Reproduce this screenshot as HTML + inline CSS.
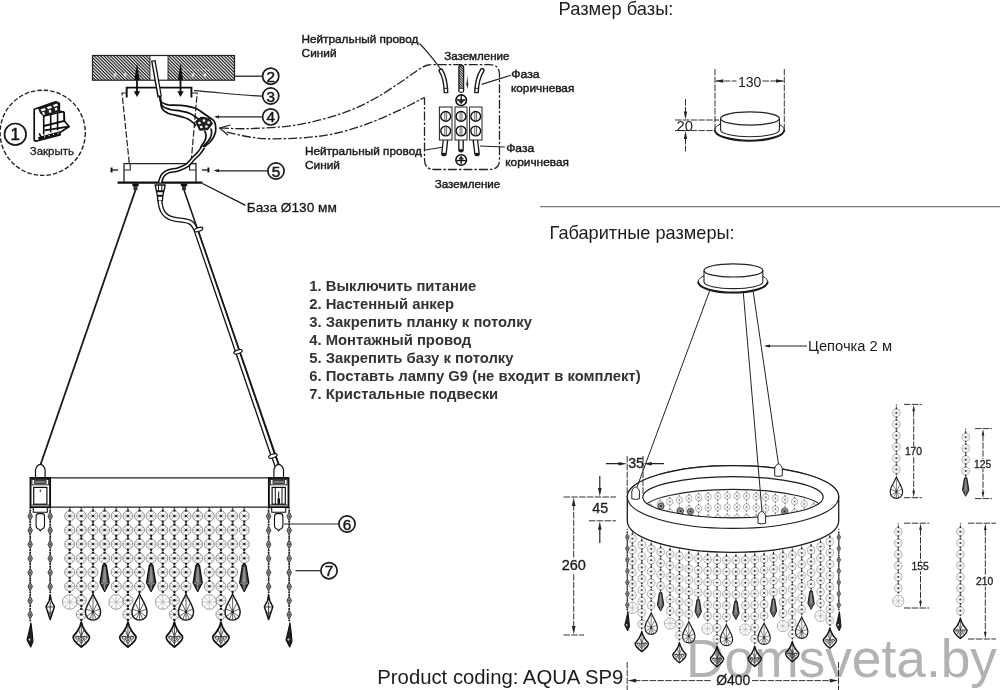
<!DOCTYPE html>
<html lang="ru"><head><meta charset="utf-8"><title>AQUA SP9</title>
<style>
html,body{margin:0;padding:0;background:#fff;}
body{width:1000px;height:690px;overflow:hidden;font-family:"Liberation Sans",sans-serif;}
svg{display:block;font-family:"Liberation Sans",sans-serif;}
</style></head><body>
<svg width="1000" height="690" viewBox="0 0 1000 690">
<defs>
<pattern id="hatch" width="2.3" height="2.3" patternUnits="userSpaceOnUse" patternTransform="rotate(45)"><rect width="2.3" height="2.3" fill="#fff"/><rect width="2.3" height="1.2" fill="#1c1c1c"/></pattern>
<pattern id="hatch2" width="1.8" height="1.8" patternUnits="userSpaceOnUse" patternTransform="rotate(45)"><rect width="1.8" height="1.8" fill="#fff"/><rect width="1.8" height="1" fill="#222"/></pattern>
<g id="bd"><circle r="4" fill="none" stroke="#8a8a8a" stroke-width="0.75"/><path d="M-2.6 -2.6L2.6 2.6M2.6 -2.6L-2.6 2.6M-3.5 0H3.5" stroke="#a0a0a0" stroke-width="0.6" fill="none"/><circle r="1" fill="#2a2a2a"/><circle cy="-4.5" r="0.95" fill="#1a1a1a"/><circle cy="4.5" r="0.95" fill="#1a1a1a"/></g>
<g id="bdf"><circle r="4" fill="none" stroke="#a2a2a2" stroke-width="0.75"/><path d="M-2.6 -2.6L2.6 2.6M2.6 -2.6L-2.6 2.6M-3.5 0H3.5" stroke="#bbb" stroke-width="0.55" fill="none"/><circle r="0.95" fill="#3a3a3a"/><circle cy="-4.5" r="0.9" fill="#2a2a2a"/><circle cy="4.5" r="0.9" fill="#2a2a2a"/></g>
<g id="bdl"><circle r="3.5" fill="none" stroke="#999" stroke-width="0.75"/><path d="M-2.2 -2.2L2.2 2.2M2.2 -2.2L-2.2 2.2" stroke="#b5b5b5" stroke-width="0.5" fill="none"/><circle r="0.8" fill="#555"/><circle cy="-4.4" r="0.7" fill="#444"/><circle cy="4.4" r="0.7" fill="#444"/></g>
<g id="bs"><path d="M0 -3.5L1.8 0L0 3.5L-1.8 0z" fill="#909090" stroke="#3c3c3c" stroke-width="0.8"/><circle cy="-4.6" r="0.8" fill="#222"/><circle cy="4.6" r="0.8" fill="#222"/><circle r="0.7" fill="#444"/></g>
<g id="tear"><path d="M0 0C1.6 4.5 6 9.5 6 14.4C6 18.2 3.4 20.7 0 20.7C-3.4 20.7 -6 18.2 -6 14.4C-6 9.5 -1.6 4.5 0 0z" fill="#fff" stroke="#1a1a1a" stroke-width="1.15"/><path d="M0 14V2.5M0 14L-3.2 7.5M0 14L3.2 7.5M0 14L-5.6 12M0 14L5.6 12M0 14L-5 17.8M0 14L5 17.8M0 14V20.4M0 14L-2.6 20M0 14L2.6 20" stroke="#333" stroke-width="0.6" fill="none"/><circle cy="14" r="1" fill="#222"/></g>
<g id="ici"><path d="M0 0L-1.3 1.2L-3.4 14.2L0 20.6L3.4 14.2L1.3 1.2z" fill="#4a4a4a" stroke="#111" stroke-width="1" stroke-linejoin="round"/><path d="M-0.5 2.4L-1.5 13.6L0 14.6L1.5 13.6L0.5 2.4z" fill="#8e8e8e"/><path d="M-2.8 14.4L0 15.2L2.8 14.4M0 15.2V19.6" stroke="#a8a8a8" stroke-width="0.6" fill="none"/></g>
<g id="ball"><polygon points="5.73,2.37 2.37,5.73 -2.37,5.73 -5.73,2.37 -5.73,-2.37 -2.37,-5.73 2.37,-5.73 5.73,-2.37" fill="#fff" stroke="#999" stroke-width="0.8"/><path d="M-4.2 -4.2L4.2 4.2M4.2 -4.2L-4.2 4.2M0 -5.8V5.8M-5.8 0H5.8" stroke="#aaa" stroke-width="0.55" fill="none"/></g>
<g id="leaf"><path d="M0 0C0.8 3.6 2.9 7.6 6 10.6C7.1 12.6 4.8 15.2 0 18.9C-4.8 15.2 -7.1 12.6 -6 10.6C-2.9 7.6 -0.8 3.6 0 0z" fill="#fff" stroke="#111" stroke-width="1.3" stroke-linejoin="round"/><path d="M0 1.5V18M0 11L-5.2 11.3M0 11L5.2 11.3M0 11L-2.4 5M0 11L2.4 5M0 11L-3.4 15.4M0 11L3.4 15.4" stroke="#222" stroke-width="0.6" fill="none"/><circle cx="-3" cy="11.8" r="1.25" fill="none" stroke="#222" stroke-width="0.6"/><circle cx="3" cy="11.8" r="1.25" fill="none" stroke="#222" stroke-width="0.6"/><circle cy="14.6" r="1.2" fill="none" stroke="#222" stroke-width="0.6"/></g>
<g id="stear"><path d="M0 0L-0.8 6L-3.4 12L0 25L3.4 12L0.8 6z" transform="scale(1 0.8)" fill="#fff" stroke="#111" stroke-width="1.2" stroke-linejoin="round"/><path d="M-2.6 9.8H2.6M0 6V19M-2.4 12.5L0 15.5L2.4 12.5" stroke="#222" stroke-width="0.7" fill="none"/></g>
<g id="sleaf"><path d="M0.6 0L-1.4 9L-2.6 13.6L0.4 19.4L2.2 15L1.6 8z" fill="#222" stroke="#111" stroke-width="0.9" stroke-linejoin="round"/><circle cx="-0.6" cy="13.4" r="0.9" fill="#ccc"/></g>
<filter id="soft" x="0" y="0" width="1000" height="690" filterUnits="userSpaceOnUse"><feGaussianBlur stdDeviation="0.35"/></filter>
</defs>
<rect width="1000" height="690" fill="#fff"/>
<g filter="url(#soft)">
<!-- A: assembly -->
<g id="ceiling">
<rect x="92.5" y="55.5" width="57.5" height="24.7" fill="url(#hatch)"/>
<rect x="168" y="55.5" width="66.5" height="24.7" fill="url(#hatch)"/>
<rect x="92.5" y="55.5" width="142" height="24.7" fill="none" stroke="#222" stroke-width="1.2"/>
<path d="M150 55.5V80.2M168 55.5V80.2" stroke="#222" stroke-width="0.9"/>
<path d="M115 73v4M113.5 75h3" stroke="#fff" stroke-width="1" fill="none"/>
<path d="M125 73v4M123.5 75h3" stroke="#fff" stroke-width="1" fill="none"/>
<path d="M193 73v4M191.5 75h3" stroke="#fff" stroke-width="1" fill="none"/>
<path d="M205 73v4M203.5 75h3" stroke="#fff" stroke-width="1" fill="none"/>
<path d="M183 70H210" stroke="#eee" stroke-width="0.8" stroke-dasharray="2 1.5"/>
<path d="M137 63L139.6 80H134.4z" fill="#111"/>
<path d="M137 80V93" stroke="#111" stroke-width="1.8"/>
<path d="M133.8 91.3h6.4L137 97z" fill="#111"/>
<path d="M180.5 63L183.1 80H177.9z" fill="#111"/>
<path d="M180.5 80V93" stroke="#111" stroke-width="1.8"/>
<path d="M177.3 91.3h6.4L180.5 97z" fill="#111"/>
</g>
<path d="M126.7 97.5V87.6H191.4V97.5" fill="none" stroke="#111" stroke-width="1.9"/>
<path d="M126 93H122L129.3 163.6M192 93H197.2L191 163.6" fill="none" stroke="#222" stroke-width="1.2" stroke-dasharray="6.5 2"/>
<path d="M124 182V163.7H196V182" fill="none" stroke="#222" stroke-width="1.25"/>
<path d="M124 170H130.2V163.7M196 170H189.6V163.7" fill="none" stroke="#222" stroke-width="1.1"/>
<path d="M117.5 182.7H202.5" stroke="#111" stroke-width="2.2"/>
<path d="M112.5 170h5.5" stroke="#111" stroke-width="1.3"/><path d="M111.6 167.6v4.8" stroke="#111" stroke-width="2"/>
<path d="M202 170h5.5" stroke="#111" stroke-width="1.3"/><path d="M208.4 167.6v4.8" stroke="#111" stroke-width="2"/>
<rect x="132.3" y="183.5" width="6.4" height="2.6" fill="#111"/><rect x="133.5" y="186" width="4" height="4.2" fill="#333"/>
<rect x="180.8" y="183.5" width="6.4" height="2.6" fill="#111"/><rect x="182" y="186" width="4" height="4.2" fill="#333"/>
<path d="M153.3 60.3L159.7 97" stroke="#111" stroke-width="4.6" stroke-linecap="butt"/>
<path d="M153.5 61.5L159.7 96" stroke="#fff" stroke-width="1.9"/>
<path d="M159.3 95.5C159.7 96.6 160.1 100.5 161.5 102.0C162.9 103.5 164.8 104.2 168.0 104.8C171.2 105.3 176.5 104.8 181.0 105.3C185.5 105.8 191.3 106.7 195.0 108.0C198.7 109.3 200.6 111.4 203.0 113.0C205.4 114.6 207.7 116.2 209.5 117.5C211.3 118.8 213.0 119.6 214.0 121.0C215.0 122.4 215.4 124.0 215.6 126.0C215.8 128.0 216.1 130.5 215.3 133.0C214.5 135.5 212.9 138.7 211.0 141.0C209.1 143.3 205.2 145.8 204.0 146.8" fill="none" stroke="#111" stroke-width="1.7"/>
<path d="M159.8 96.0C160.2 97.6 160.3 103.2 162.0 105.5C163.7 107.8 166.8 108.6 170.0 109.5C173.2 110.4 177.7 110.4 181.0 111.1C184.3 111.8 187.3 112.3 190.0 113.5C192.7 114.7 195.3 116.8 197.0 118.0C198.7 119.2 199.5 120.5 200.0 121.0" fill="none" stroke="#111" stroke-width="1.7"/>
<path d="M160.3 96.5C160.6 98.4 160.5 105.2 161.8 108.0C163.1 110.8 164.8 111.8 168.0 113.2C171.2 114.6 177.7 115.6 181.0 116.6C184.3 117.6 185.8 117.8 188.0 119.0C190.2 120.2 192.7 122.3 194.0 123.5C195.3 124.7 195.7 125.6 196.0 126.0" fill="none" stroke="#111" stroke-width="1.7"/>
<path d="M211.0 128.5C211.1 129.2 211.8 131.3 211.6 133.0C211.4 134.7 210.9 136.8 210.0 138.5C209.1 140.2 207.3 142.1 206.0 143.5C204.7 144.9 202.9 146.6 202.3 147.2" fill="none" stroke="#111" stroke-width="1.7"/>
<path d="M204.5 130.5C204.8 131.2 205.9 133.4 206.0 135.0C206.1 136.6 205.8 138.4 205.2 140.0C204.6 141.6 203.3 143.2 202.5 144.5C201.7 145.8 200.7 147.2 200.3 147.8" fill="none" stroke="#111" stroke-width="1.7"/>
<path d="M203.2 147.0C202.5 148.0 200.7 151.0 199.0 153.0C197.3 155.0 195.0 156.9 193.0 159.0C191.0 161.1 189.5 163.7 187.0 165.4C184.5 167.2 181.0 168.5 178.0 169.5C175.0 170.5 171.5 170.3 169.0 171.2C166.5 172.1 164.5 173.1 163.0 175.0C161.5 176.9 160.5 181.2 160.0 182.5" fill="none" stroke="#111" stroke-width="4.6"/>
<path d="M203.2 147.0C202.5 148.0 200.7 151.0 199.0 153.0C197.3 155.0 195.0 156.9 193.0 159.0C191.0 161.1 189.5 163.7 187.0 165.4C184.5 167.2 181.0 168.5 178.0 169.5C175.0 170.5 171.5 170.3 169.0 171.2C166.5 172.1 164.5 173.1 163.0 175.0C161.5 176.9 160.5 181.2 160.0 182.5" fill="none" stroke="#fff" stroke-width="1.6"/>
<path d="M195.6 121.5l5.5 -4.4l8.2 1.4l3.2 5.2l-4.6 5.9l-8.3 0.6z" fill="#222" stroke="#111" stroke-width="1" stroke-linejoin="round"/>
<circle cx="199.5" cy="123" r="1.35" fill="#fff"/>
<circle cx="204" cy="120.6" r="1.35" fill="#fff"/>
<circle cx="208.6" cy="122.6" r="1.35" fill="#fff"/>
<circle cx="201.3" cy="127" r="1.35" fill="#fff"/>
<circle cx="206.4" cy="126.5" r="1.35" fill="#fff"/>
<path d="M155.2 185h10l-1.2 6h-7.6zM156.6 191.5h7l-0.6 4h-5.8zM157.4 196h5.4l-0.4 4.6h-4.6z" fill="#fff" stroke="#111" stroke-width="1.3" stroke-linejoin="round"/>
<path d="M158.5 185.5v5M161.8 185.5v5" stroke="#111" stroke-width="1"/>
<path d="M135.5 190L40.4 465" stroke="#1a1a1a" stroke-width="1.8"/>
<path d="M160 200.5C160.5 212 165 218 176 219.5S192 220 196 230L272.8 455C274.5 459 276 462 276.8 466" fill="none" stroke="#161616" stroke-width="5.2"/>
<path d="M160 200.5C160.5 212 165 218 176 219.5S192 220 196 230L272.8 455C274.5 459 276 462 276.8 466" fill="none" stroke="#fff" stroke-width="2.5"/>
<path d="M184 190L279 465" stroke="#1a1a1a" stroke-width="1.6"/>
<ellipse cx="198.6" cy="229.5" rx="4.4" ry="1.8" transform="rotate(-18 198.6 229.5)" fill="#fff" stroke="#111" stroke-width="1.2"/>
<ellipse cx="238" cy="351.8" rx="4.4" ry="1.8" transform="rotate(-18 238 351.8)" fill="#fff" stroke="#111" stroke-width="1.2"/>
<ellipse cx="272.9" cy="456" rx="4.4" ry="1.8" transform="rotate(-18 272.9 456)" fill="#fff" stroke="#111" stroke-width="1.2"/>
<circle cx="270.7" cy="76.2" r="8.1" fill="#fff" stroke="#1a1a1a" stroke-width="1.7"/>
<text x="270.7" y="81.7" font-size="15.3" text-anchor="middle" fill="#1a1a1a" stroke="#1a1a1a" stroke-width="0.5">2</text>
<circle cx="270.7" cy="96" r="8.1" fill="#fff" stroke="#1a1a1a" stroke-width="1.7"/>
<text x="270.7" y="101.5" font-size="15.3" text-anchor="middle" fill="#1a1a1a" stroke="#1a1a1a" stroke-width="0.5">3</text>
<circle cx="270.7" cy="116.9" r="8.1" fill="#fff" stroke="#1a1a1a" stroke-width="1.7"/>
<text x="270.7" y="122.4" font-size="15.3" text-anchor="middle" fill="#1a1a1a" stroke="#1a1a1a" stroke-width="0.5">4</text>
<circle cx="276" cy="171" r="8.1" fill="#fff" stroke="#1a1a1a" stroke-width="1.7"/>
<text x="276" y="176.5" font-size="15.3" text-anchor="middle" fill="#1a1a1a" stroke="#1a1a1a" stroke-width="0.5">5</text>
<circle cx="347" cy="524" r="8.1" fill="#fff" stroke="#1a1a1a" stroke-width="1.7"/>
<text x="347" y="529.5" font-size="15.3" text-anchor="middle" fill="#1a1a1a" stroke="#1a1a1a" stroke-width="0.5">6</text>
<circle cx="329" cy="570.7" r="8.1" fill="#fff" stroke="#1a1a1a" stroke-width="1.7"/>
<text x="329" y="576.2" font-size="15.3" text-anchor="middle" fill="#1a1a1a" stroke="#1a1a1a" stroke-width="0.5">7</text>
<circle cx="15.3" cy="134.3" r="10.8" fill="#fff" stroke="#1a1a1a" stroke-width="1.7"/>
<text x="15.3" y="140.4" font-size="17" text-anchor="middle" fill="#1a1a1a" stroke="#1a1a1a" stroke-width="0.5">1</text>
<path d="M234.5 76.2H262" stroke="#222" stroke-width="1.3"/>
<path d="M194 90.6C215 92 240 95.4 262 96.2" fill="none" stroke="#222" stroke-width="1.2"/>
<path d="M216 116.8H262" stroke="#222" stroke-width="1.3"/><path d="M214 116.8l5 -1.6v3.2z" fill="#222"/>
<path d="M216 170.8H267.5" stroke="#222" stroke-width="1.3"/><path d="M213.5 170.6l5.5 -1.6v3.2z" fill="#222"/>
<path d="M284 524H338.5" stroke="#222" stroke-width="1.2"/>
<path d="M295.5 570.7H320.5" stroke="#222" stroke-width="1.2"/>
<path d="M202.5 183.5L245.5 205.3" stroke="#1a1a1a" stroke-width="1.4"/>
<circle cx="42.7" cy="132.8" r="42.6" fill="none" stroke="#222" stroke-width="1.4" stroke-dasharray="4.5 2"/>
<g id="breaker" stroke="#111" stroke-linejoin="round">
<path d="M34.2 109.3L55.7 101.8L59.3 103.4V111L64 112.2L64.5 121.3L69.2 126.5L60 132.5V134.9L35.8 141.2L34.2 140z" fill="#fff" stroke-width="1.7"/>
<path d="M38.6 108.6L55.5 102.6L58.8 104V111.2L44 116.2L40.5 113.2z" fill="#222" stroke-width="1"/>
<path d="M40.6 109.4L44.8 107.9L45.8 110L41.8 111.5zM46.8 107.2L51 105.7L52 107.8L48 109.3zM53 105L57.2 103.6L58 105.7L54 107.1z" fill="#fff" stroke="none"/>
<path d="M42 112.6l2.2 -0.8l0.8 2.6l-1.6 0.6zM48.6 110.4l2.2 -0.8l0.6 2.6l-2 0.7zM54.8 108.3l2.2 -0.8l0.4 2.6l-2 0.7z" fill="#fff" stroke="none"/>
<path d="M43.7 115.8V134.5M50.7 113.6V132.3M57.6 111.4V130.2M64.2 112.4V121" stroke-width="1.6" fill="none"/>
<path d="M43.7 116L64 111.6" stroke-width="1.3" fill="none"/>
<path d="M43.7 126L64.5 120.8M44.5 130.4L68.4 126.6" stroke-width="1.9" fill="none"/>
<path d="M38.4 138.6L60 132.8" stroke-width="3" fill="none"/>
<path d="M38.2 109V137" stroke-width="0.01" fill="none"/>
<path d="M39.2 133.5L41.6 137.8" stroke-width="1.6" fill="none"/>
<path d="M44.5 136.8h0.1M49 135.6h0.1M53.5 134.4h0.1M58 133.2h0.1" stroke="#fff" stroke-width="1.2" stroke-linecap="round" fill="none"/>
</g>
<text x="29.7" y="155.4" font-size="11.5" textLength="44.3" lengthAdjust="spacingAndGlyphs" fill="#1a1a1a" stroke="#1a1a1a" stroke-width="0.3">Закрыть</text>
<text x="246.8" y="211.6" font-size="13.6" textLength="90" lengthAdjust="spacingAndGlyphs" fill="#1a1a1a" stroke="#1a1a1a" stroke-width="0.3">База Ø130 мм</text>
<!-- B: terminal detail -->
<path d="M220.0 128.0C224.3 128.1 235.7 128.9 246.0 128.7C256.3 128.5 272.0 127.7 282.0 126.8C292.0 125.9 298.0 124.8 306.0 123.2C314.0 121.6 322.0 119.6 330.0 117.2C338.0 114.8 346.0 112.2 354.0 108.8C362.0 105.4 370.0 101.4 378.0 96.8C386.0 92.2 396.0 85.2 402.0 81.2C408.0 77.2 410.8 75.0 414.0 72.8C417.2 70.6 418.6 69.3 421.0 68.0C423.4 66.7 425.9 65.6 428.4 65.0C430.9 64.4 434.7 64.7 436.0 64.6H489.5Q499.5 64.6 499.5 74.6V159.5Q499.5 169.5 489.5 169.5H434.5Q424.5 169.5 424.5 159.5V97.5" fill="none" stroke="#222" stroke-width="1.3" stroke-dasharray="9 2 2.5 2"/>
<path d="M226.8 132.2C230.7 133.0 242.8 135.9 250.0 137.0C257.2 138.1 260.7 138.7 270.0 138.8C279.3 138.9 295.2 138.5 306.0 137.6C316.8 136.7 324.8 135.7 334.8 133.5C344.8 131.3 355.6 128.1 366.0 124.4C376.4 120.7 388.8 115.0 397.2 111.2C405.6 107.4 411.8 103.9 416.4 101.6C420.9 99.3 423.1 98.2 424.5 97.5" fill="none" stroke="#222" stroke-width="1.3" stroke-dasharray="9 2 2.5 2"/>
<path d="M230.5 125L219.6 128L228 135.2" fill="none" stroke="#222" stroke-width="1.2"/>
<circle cx="461.2" cy="100.2" r="5.3" fill="#fff" stroke="#111" stroke-width="1.6"/>
<path d="M461.2 95.4V100.2M457 100H465.4" stroke="#111" stroke-width="1.3" fill="none"/><path d="M458 100.4h6.4l-3.2 3.8z" fill="#222"/>
<circle cx="461.2" cy="160" r="5.3" fill="#fff" stroke="#111" stroke-width="1.6"/>
<path d="M461.2 158V164.6M456.6 160.6H465.8" stroke="#111" stroke-width="1.3" fill="none"/><path d="M458.2 159.6h6l-3 -3.8z" fill="#222"/>
<path d="M440.9 70.8C443.6 75 445.6 82 446 92" fill="none" stroke="#1a1a1a" stroke-width="4.9" stroke-linecap="round"/>
<path d="M440.9 70.8C443.6 75 445.6 82 446 92" fill="none" stroke="#fff" stroke-width="2.1" stroke-linecap="round"/>
<path d="M482.2 70.4C479.2 75 476.9 82 476.5 92" fill="none" stroke="#1a1a1a" stroke-width="4.9" stroke-linecap="round"/>
<path d="M482.2 70.4C479.2 75 476.9 82 476.5 92" fill="none" stroke="#fff" stroke-width="2.1" stroke-linecap="round"/>
<path d="M443.7 88.3h4.6M474.2 88.3h4.6" stroke="#222" stroke-width="1"/>
<rect x="443" y="92" width="6" height="3" fill="#fff"/><rect x="473.5" y="92" width="6" height="3" fill="#fff"/>
<path d="M443.6 92.6h4.8M474.1 92.6h4.8" stroke="#222" stroke-width="1.1"/>
<rect x="458.9" y="65.6" width="4.7" height="26.6" rx="1.4" fill="url(#hatch2)" stroke="#1a1a1a" stroke-width="1.3"/>
<rect x="459.7" y="88.6" width="3.1" height="3" fill="#fff"/><path d="M459 88.3h4.5" stroke="#222" stroke-width="0.9"/>
<path d="M467.3 75.5l0.9 9h-1.8z" fill="#333"/><path d="M466.2 83.5h2.2l-1.1 5.5z" fill="#222"/>
<path d="M445.4 140.8L444 153.5" stroke="#1a1a1a" stroke-width="5.7" stroke-linecap="round"/><path d="M445.4 140L444.1 152.8" stroke="#fff" stroke-width="3"/>
<path d="M461 140.8V149.6" stroke="#1a1a1a" stroke-width="5.7" stroke-linecap="round"/><path d="M461 140V149.2" stroke="#fff" stroke-width="3"/>
<path d="M475.4 140.8L477 153.5" stroke="#1a1a1a" stroke-width="5.7" stroke-linecap="round"/><path d="M475.4 140L476.9 152.8" stroke="#fff" stroke-width="3"/>
<rect x="439.4" y="107" width="12.6" height="33" fill="#fff" stroke="#222" stroke-width="1"/>
<rect x="455" y="107" width="12.0" height="33" fill="#fff" stroke="#222" stroke-width="1"/>
<rect x="469.6" y="107" width="12.4" height="33" fill="#fff" stroke="#222" stroke-width="1"/>
<circle cx="445.7" cy="116.4" r="4.9" fill="#fff" stroke="#111" stroke-width="1.4"/>
<path d="M444.8 111.80000000000001V121.0M446.59999999999997 111.80000000000001V121.0" stroke="#222" stroke-width="0.7"/>
<circle cx="445.7" cy="131" r="4.9" fill="#fff" stroke="#111" stroke-width="1.4"/>
<path d="M444.8 126.4V135.6M446.59999999999997 126.4V135.6" stroke="#222" stroke-width="0.7"/>
<circle cx="461" cy="116.4" r="4.9" fill="#fff" stroke="#111" stroke-width="1.4"/>
<path d="M460.1 111.80000000000001V121.0M461.9 111.80000000000001V121.0" stroke="#222" stroke-width="0.7"/>
<circle cx="461" cy="131" r="4.9" fill="#fff" stroke="#111" stroke-width="1.4"/>
<path d="M460.1 126.4V135.6M461.9 126.4V135.6" stroke="#222" stroke-width="0.7"/>
<circle cx="475.7" cy="116.4" r="4.9" fill="#fff" stroke="#111" stroke-width="1.4"/>
<path d="M474.8 111.80000000000001V121.0M476.59999999999997 111.80000000000001V121.0" stroke="#222" stroke-width="0.7"/>
<circle cx="475.7" cy="131" r="4.9" fill="#fff" stroke="#111" stroke-width="1.4"/>
<path d="M474.8 126.4V135.6M476.59999999999997 126.4V135.6" stroke="#222" stroke-width="0.7"/>
<path d="M419.5 43.5C426 50 434 60 441 69.5" fill="none" stroke="#222" stroke-width="1.1"/>
<path d="M511 75.3L481.6 84.4" stroke="#222" stroke-width="1.1"/>
<path d="M424 150.3L442 147.2" stroke="#222" stroke-width="1.1"/>
<path d="M505 147L480 146" stroke="#222" stroke-width="1.1"/>
<text x="301.4" y="43" font-size="11.5" textLength="117" lengthAdjust="spacingAndGlyphs" fill="#1a1a1a" stroke="#1a1a1a" stroke-width="0.42">Нейтральный провод</text>
<text x="301.6" y="56.7" font-size="11.5" textLength="35" lengthAdjust="spacingAndGlyphs" fill="#1a1a1a" stroke="#1a1a1a" stroke-width="0.42">Синий</text>
<text x="304.9" y="155" font-size="11.5" textLength="117" lengthAdjust="spacingAndGlyphs" fill="#1a1a1a" stroke="#1a1a1a" stroke-width="0.42">Нейтральный провод</text>
<text x="305" y="168.5" font-size="11.5" textLength="35" lengthAdjust="spacingAndGlyphs" fill="#1a1a1a" stroke="#1a1a1a" stroke-width="0.42">Синий</text>
<text x="444.2" y="59.7" font-size="11.5" textLength="65.3" lengthAdjust="spacingAndGlyphs" fill="#1a1a1a" stroke="#1a1a1a" stroke-width="0.42">Заземление</text>
<text x="434.7" y="187.8" font-size="11.5" textLength="65.6" lengthAdjust="spacingAndGlyphs" fill="#1a1a1a" stroke="#1a1a1a" stroke-width="0.42">Заземление</text>
<text x="511.2" y="78" font-size="11.5" textLength="28.4" lengthAdjust="spacingAndGlyphs" fill="#1a1a1a" stroke="#1a1a1a" stroke-width="0.42">Фаза</text>
<text x="511" y="91.6" font-size="11.5" textLength="63.3" lengthAdjust="spacingAndGlyphs" fill="#1a1a1a" stroke="#1a1a1a" stroke-width="0.42">коричневая</text>
<text x="506.2" y="152.2" font-size="11.5" textLength="28" lengthAdjust="spacingAndGlyphs" fill="#1a1a1a" stroke="#1a1a1a" stroke-width="0.42">Фаза</text>
<text x="505.3" y="166.4" font-size="11.5" textLength="63.6" lengthAdjust="spacingAndGlyphs" fill="#1a1a1a" stroke="#1a1a1a" stroke-width="0.42">коричневая</text>
<!-- D: left view -->
<path d="M69.7 507.2V510.4" stroke="#222" stroke-width="1.25" stroke-dasharray="1.50 1.25"/>
<use href="#bd" transform="translate(69.7 516.0) scale(1.250)"/>
<use href="#bd" transform="translate(69.7 530.1) scale(1.250)"/>
<use href="#bd" transform="translate(69.7 544.1) scale(1.250)"/>
<use href="#bd" transform="translate(69.7 558.2) scale(1.250)"/>
<use href="#bd" transform="translate(69.7 572.2) scale(1.250)"/>
<use href="#bd" transform="translate(69.7 586.3) scale(1.250)"/>
<use href="#ball" transform="translate(69.7 602.0) scale(1.225)"/>
<path d="M81.3 507.2V510.4" stroke="#222" stroke-width="1.25" stroke-dasharray="1.50 1.25"/>
<use href="#bd" transform="translate(81.3 516.0) scale(1.250)"/>
<use href="#bd" transform="translate(81.3 530.1) scale(1.250)"/>
<use href="#bd" transform="translate(81.3 544.1) scale(1.250)"/>
<use href="#bd" transform="translate(81.3 558.2) scale(1.250)"/>
<use href="#bd" transform="translate(81.3 572.2) scale(1.250)"/>
<use href="#bd" transform="translate(81.3 586.3) scale(1.250)"/>
<use href="#bd" transform="translate(81.3 600.3) scale(1.250)"/>
<use href="#bd" transform="translate(81.3 614.4) scale(1.250)"/>
<use href="#leaf" transform="translate(81.3 622.0) scale(1.325)"/>
<path d="M93.0 507.2V510.4" stroke="#222" stroke-width="1.25" stroke-dasharray="1.50 1.25"/>
<use href="#bd" transform="translate(93.0 516.0) scale(1.250)"/>
<use href="#bd" transform="translate(93.0 530.1) scale(1.250)"/>
<use href="#bd" transform="translate(93.0 544.1) scale(1.250)"/>
<use href="#bd" transform="translate(93.0 558.2) scale(1.250)"/>
<use href="#bd" transform="translate(93.0 572.2) scale(1.250)"/>
<use href="#bd" transform="translate(93.0 586.3) scale(1.250)"/>
<use href="#tear" transform="translate(93.0 594.0) scale(1.262)"/>
<path d="M104.6 507.2V510.4" stroke="#222" stroke-width="1.25" stroke-dasharray="1.50 1.25"/>
<use href="#bd" transform="translate(104.6 516.0) scale(1.250)"/>
<use href="#bd" transform="translate(104.6 530.1) scale(1.250)"/>
<use href="#bd" transform="translate(104.6 544.1) scale(1.250)"/>
<use href="#bd" transform="translate(104.6 558.2) scale(1.250)"/>
<use href="#ici" transform="translate(104.6 563.8) scale(1.338)"/>
<path d="M116.2 507.2V510.4" stroke="#222" stroke-width="1.25" stroke-dasharray="1.50 1.25"/>
<use href="#bd" transform="translate(116.2 516.0) scale(1.250)"/>
<use href="#bd" transform="translate(116.2 530.1) scale(1.250)"/>
<use href="#bd" transform="translate(116.2 544.1) scale(1.250)"/>
<use href="#bd" transform="translate(116.2 558.2) scale(1.250)"/>
<use href="#bd" transform="translate(116.2 572.2) scale(1.250)"/>
<use href="#bd" transform="translate(116.2 586.3) scale(1.250)"/>
<use href="#ball" transform="translate(116.2 602.0) scale(1.225)"/>
<path d="M127.9 507.2V510.4" stroke="#222" stroke-width="1.25" stroke-dasharray="1.50 1.25"/>
<use href="#bd" transform="translate(127.9 516.0) scale(1.250)"/>
<use href="#bd" transform="translate(127.9 530.1) scale(1.250)"/>
<use href="#bd" transform="translate(127.9 544.1) scale(1.250)"/>
<use href="#bd" transform="translate(127.9 558.2) scale(1.250)"/>
<use href="#bd" transform="translate(127.9 572.2) scale(1.250)"/>
<use href="#bd" transform="translate(127.9 586.3) scale(1.250)"/>
<use href="#bd" transform="translate(127.9 600.3) scale(1.250)"/>
<use href="#bd" transform="translate(127.9 614.4) scale(1.250)"/>
<use href="#leaf" transform="translate(127.9 622.0) scale(1.325)"/>
<path d="M139.5 507.2V510.4" stroke="#222" stroke-width="1.25" stroke-dasharray="1.50 1.25"/>
<use href="#bd" transform="translate(139.5 516.0) scale(1.250)"/>
<use href="#bd" transform="translate(139.5 530.1) scale(1.250)"/>
<use href="#bd" transform="translate(139.5 544.1) scale(1.250)"/>
<use href="#bd" transform="translate(139.5 558.2) scale(1.250)"/>
<use href="#bd" transform="translate(139.5 572.2) scale(1.250)"/>
<use href="#bd" transform="translate(139.5 586.3) scale(1.250)"/>
<use href="#tear" transform="translate(139.5 594.0) scale(1.262)"/>
<path d="M151.1 507.2V510.4" stroke="#222" stroke-width="1.25" stroke-dasharray="1.50 1.25"/>
<use href="#bd" transform="translate(151.1 516.0) scale(1.250)"/>
<use href="#bd" transform="translate(151.1 530.1) scale(1.250)"/>
<use href="#bd" transform="translate(151.1 544.1) scale(1.250)"/>
<use href="#bd" transform="translate(151.1 558.2) scale(1.250)"/>
<use href="#ici" transform="translate(151.1 563.8) scale(1.338)"/>
<path d="M162.8 507.2V510.4" stroke="#222" stroke-width="1.25" stroke-dasharray="1.50 1.25"/>
<use href="#bd" transform="translate(162.8 516.0) scale(1.250)"/>
<use href="#bd" transform="translate(162.8 530.1) scale(1.250)"/>
<use href="#bd" transform="translate(162.8 544.1) scale(1.250)"/>
<use href="#bd" transform="translate(162.8 558.2) scale(1.250)"/>
<use href="#bd" transform="translate(162.8 572.2) scale(1.250)"/>
<use href="#bd" transform="translate(162.8 586.3) scale(1.250)"/>
<use href="#ball" transform="translate(162.8 602.0) scale(1.225)"/>
<path d="M174.4 507.2V510.4" stroke="#222" stroke-width="1.25" stroke-dasharray="1.50 1.25"/>
<use href="#bd" transform="translate(174.4 516.0) scale(1.250)"/>
<use href="#bd" transform="translate(174.4 530.1) scale(1.250)"/>
<use href="#bd" transform="translate(174.4 544.1) scale(1.250)"/>
<use href="#bd" transform="translate(174.4 558.2) scale(1.250)"/>
<use href="#bd" transform="translate(174.4 572.2) scale(1.250)"/>
<use href="#bd" transform="translate(174.4 586.3) scale(1.250)"/>
<use href="#bd" transform="translate(174.4 600.3) scale(1.250)"/>
<use href="#bd" transform="translate(174.4 614.4) scale(1.250)"/>
<use href="#leaf" transform="translate(174.4 622.0) scale(1.325)"/>
<path d="M186.0 507.2V510.4" stroke="#222" stroke-width="1.25" stroke-dasharray="1.50 1.25"/>
<use href="#bd" transform="translate(186.0 516.0) scale(1.250)"/>
<use href="#bd" transform="translate(186.0 530.1) scale(1.250)"/>
<use href="#bd" transform="translate(186.0 544.1) scale(1.250)"/>
<use href="#bd" transform="translate(186.0 558.2) scale(1.250)"/>
<use href="#bd" transform="translate(186.0 572.2) scale(1.250)"/>
<use href="#bd" transform="translate(186.0 586.3) scale(1.250)"/>
<use href="#tear" transform="translate(186.0 594.0) scale(1.262)"/>
<path d="M197.7 507.2V510.4" stroke="#222" stroke-width="1.25" stroke-dasharray="1.50 1.25"/>
<use href="#bd" transform="translate(197.7 516.0) scale(1.250)"/>
<use href="#bd" transform="translate(197.7 530.1) scale(1.250)"/>
<use href="#bd" transform="translate(197.7 544.1) scale(1.250)"/>
<use href="#bd" transform="translate(197.7 558.2) scale(1.250)"/>
<use href="#ici" transform="translate(197.7 563.8) scale(1.338)"/>
<path d="M209.3 507.2V510.4" stroke="#222" stroke-width="1.25" stroke-dasharray="1.50 1.25"/>
<use href="#bd" transform="translate(209.3 516.0) scale(1.250)"/>
<use href="#bd" transform="translate(209.3 530.1) scale(1.250)"/>
<use href="#bd" transform="translate(209.3 544.1) scale(1.250)"/>
<use href="#bd" transform="translate(209.3 558.2) scale(1.250)"/>
<use href="#bd" transform="translate(209.3 572.2) scale(1.250)"/>
<use href="#bd" transform="translate(209.3 586.3) scale(1.250)"/>
<use href="#ball" transform="translate(209.3 602.0) scale(1.225)"/>
<path d="M220.9 507.2V510.4" stroke="#222" stroke-width="1.25" stroke-dasharray="1.50 1.25"/>
<use href="#bd" transform="translate(220.9 516.0) scale(1.250)"/>
<use href="#bd" transform="translate(220.9 530.1) scale(1.250)"/>
<use href="#bd" transform="translate(220.9 544.1) scale(1.250)"/>
<use href="#bd" transform="translate(220.9 558.2) scale(1.250)"/>
<use href="#bd" transform="translate(220.9 572.2) scale(1.250)"/>
<use href="#bd" transform="translate(220.9 586.3) scale(1.250)"/>
<use href="#bd" transform="translate(220.9 600.3) scale(1.250)"/>
<use href="#bd" transform="translate(220.9 614.4) scale(1.250)"/>
<use href="#leaf" transform="translate(220.9 622.0) scale(1.325)"/>
<path d="M232.6 507.2V510.4" stroke="#222" stroke-width="1.25" stroke-dasharray="1.50 1.25"/>
<use href="#bd" transform="translate(232.6 516.0) scale(1.250)"/>
<use href="#bd" transform="translate(232.6 530.1) scale(1.250)"/>
<use href="#bd" transform="translate(232.6 544.1) scale(1.250)"/>
<use href="#bd" transform="translate(232.6 558.2) scale(1.250)"/>
<use href="#bd" transform="translate(232.6 572.2) scale(1.250)"/>
<use href="#bd" transform="translate(232.6 586.3) scale(1.250)"/>
<use href="#tear" transform="translate(232.6 594.0) scale(1.262)"/>
<path d="M244.2 507.2V510.4" stroke="#222" stroke-width="1.25" stroke-dasharray="1.50 1.25"/>
<use href="#bd" transform="translate(244.2 516.0) scale(1.250)"/>
<use href="#bd" transform="translate(244.2 530.1) scale(1.250)"/>
<use href="#bd" transform="translate(244.2 544.1) scale(1.250)"/>
<use href="#bd" transform="translate(244.2 558.2) scale(1.250)"/>
<use href="#ici" transform="translate(244.2 563.8) scale(1.338)"/>
<path d="M30.2 507.5V620.9" stroke="#222" stroke-width="1.12" stroke-dasharray="1.62 1.62"/>
<use href="#bs" transform="translate(30.2 516.3) scale(1.250)"/>
<use href="#bs" transform="translate(30.2 530.4) scale(1.250)"/>
<use href="#bs" transform="translate(30.2 544.4) scale(1.250)"/>
<use href="#bs" transform="translate(30.2 558.5) scale(1.250)"/>
<use href="#bs" transform="translate(30.2 572.5) scale(1.250)"/>
<use href="#bs" transform="translate(30.2 586.6) scale(1.250)"/>
<use href="#bs" transform="translate(30.2 600.6) scale(1.250)"/>
<use href="#bs" transform="translate(30.2 614.7) scale(1.250)"/>
<use href="#sleaf" transform="translate(30.2 622.8) scale(1.250)"/>
<path d="M50.2 507.5V592.8" stroke="#222" stroke-width="1.12" stroke-dasharray="1.62 1.62"/>
<use href="#bs" transform="translate(50.2 516.3) scale(1.250)"/>
<use href="#bs" transform="translate(50.2 530.4) scale(1.250)"/>
<use href="#bs" transform="translate(50.2 544.4) scale(1.250)"/>
<use href="#bs" transform="translate(50.2 558.5) scale(1.250)"/>
<use href="#bs" transform="translate(50.2 572.5) scale(1.250)"/>
<use href="#bs" transform="translate(50.2 586.6) scale(1.250)"/>
<use href="#stear" transform="translate(50.2 594.7) scale(1.250)"/>
<path d="M268.6 507.5V592.8" stroke="#222" stroke-width="1.12" stroke-dasharray="1.62 1.62"/>
<use href="#bs" transform="translate(268.6 516.3) scale(1.250)"/>
<use href="#bs" transform="translate(268.6 530.4) scale(1.250)"/>
<use href="#bs" transform="translate(268.6 544.4) scale(1.250)"/>
<use href="#bs" transform="translate(268.6 558.5) scale(1.250)"/>
<use href="#bs" transform="translate(268.6 572.5) scale(1.250)"/>
<use href="#bs" transform="translate(268.6 586.6) scale(1.250)"/>
<use href="#stear" transform="translate(268.6 594.7) scale(1.250)"/>
<path d="M289.2 507.5V620.9" stroke="#222" stroke-width="1.12" stroke-dasharray="1.62 1.62"/>
<use href="#bs" transform="translate(289.2 516.3) scale(1.250)"/>
<use href="#bs" transform="translate(289.2 530.4) scale(1.250)"/>
<use href="#bs" transform="translate(289.2 544.4) scale(1.250)"/>
<use href="#bs" transform="translate(289.2 558.5) scale(1.250)"/>
<use href="#bs" transform="translate(289.2 572.5) scale(1.250)"/>
<use href="#bs" transform="translate(289.2 586.6) scale(1.250)"/>
<use href="#bs" transform="translate(289.2 600.6) scale(1.250)"/>
<use href="#bs" transform="translate(289.2 614.7) scale(1.250)"/>
<use href="#sleaf" transform="translate(289.2 622.8) scale(1.250)"/>
<path d="M50 477.8H269M50 507.2H269" stroke="#222" stroke-width="1.3"/>
<rect x="30.5" y="478" width="19.6" height="29.2" fill="#fff" stroke="#111" stroke-width="1.9"/>
<rect x="31.9" y="479.4" width="16.8" height="5.4" fill="#fff" stroke="#111" stroke-width="0.9"/>
<path d="M34.5 480.5h11.6v3h-11.6z" fill="#777" stroke="#222" stroke-width="0.8"/>
<rect x="33.7" y="487.4" width="13.2" height="16.8" fill="#fff" stroke="#111" stroke-width="1.2"/>
<path d="M31.5 505H49.1" stroke="#111" stroke-width="0.9"/>
<path d="M35.5 477V470.6C35.5 466.8 38.3 464.3 40.3 464.3S45.099999999999994 466.8 45.099999999999994 470.6V477" fill="#fff" stroke="#111" stroke-width="1.2"/>
<path d="M33.3 508V512.3H47.3V508" fill="#fff" stroke="#111" stroke-width="1.1"/>
<path d="M36.099999999999994 516.5Q36.099999999999994 513.6 38.699999999999996 513.6H41.9Q44.5 513.6 44.5 516.5V525.5Q44.5 528.6 41.5 529.2L40.3 530.8L39.099999999999994 529.2Q36.099999999999994 528.6 36.099999999999994 525.5z" fill="#fff" stroke="#111" stroke-width="1.1"/>
<rect x="268.9" y="478" width="19.6" height="29.2" fill="#fff" stroke="#111" stroke-width="1.9"/>
<rect x="270.29999999999995" y="479.4" width="16.8" height="5.4" fill="#fff" stroke="#111" stroke-width="0.9"/>
<path d="M272.9 480.5h11.6v3h-11.6z" fill="#777" stroke="#222" stroke-width="0.8"/>
<rect x="272.09999999999997" y="487.4" width="13.2" height="16.8" fill="#fff" stroke="#111" stroke-width="1.2"/>
<path d="M269.9 505H287.5" stroke="#111" stroke-width="0.9"/>
<path d="M273.9 477V470.6C273.9 466.8 276.7 464.3 278.7 464.3S283.5 466.8 283.5 470.6V477" fill="#fff" stroke="#111" stroke-width="1.2"/>
<path d="M271.7 508V512.3H285.7V508" fill="#fff" stroke="#111" stroke-width="1.1"/>
<path d="M274.5 516.5Q274.5 513.6 277.09999999999997 513.6H280.3Q282.9 513.6 282.9 516.5V525.5Q282.9 528.6 279.9 529.2L278.7 530.8L277.5 529.2Q274.5 528.6 274.5 525.5z" fill="#fff" stroke="#111" stroke-width="1.1"/>
<path d="M275.3 487.4V504M282 487.4V504M278.7 491.5V503" stroke="#111" stroke-width="1"/><rect x="277.5" y="498.4" width="2.5" height="5.4" fill="#111"/>
<path d="M40.3 489.4v2.6" stroke="#222" stroke-width="1"/>
<!-- E: right view -->
<path d="M632.4 530.1V534.1" stroke="#222" stroke-width="1.00" stroke-dasharray="1.20 1.00"/>
<use href="#bdf" transform="translate(632.4 538.6) scale(1.000)"/>
<use href="#bdf" transform="translate(632.4 549.9) scale(1.000)"/>
<use href="#bdf" transform="translate(632.4 561.2) scale(1.000)"/>
<use href="#bdf" transform="translate(632.4 572.5) scale(1.000)"/>
<use href="#bdf" transform="translate(632.4 583.8) scale(1.000)"/>
<use href="#bdf" transform="translate(632.4 595.1) scale(1.000)"/>
<use href="#ball" transform="translate(632.4 607.9) scale(0.950)"/>
<path d="M641.8 536.4V540.4" stroke="#222" stroke-width="1.00" stroke-dasharray="1.20 1.00"/>
<use href="#bdf" transform="translate(641.8 544.9) scale(1.000)"/>
<use href="#bdf" transform="translate(641.8 556.2) scale(1.000)"/>
<use href="#bdf" transform="translate(641.8 567.5) scale(1.000)"/>
<use href="#bdf" transform="translate(641.8 578.8) scale(1.000)"/>
<use href="#bdf" transform="translate(641.8 590.1) scale(1.000)"/>
<use href="#bdf" transform="translate(641.8 601.4) scale(1.000)"/>
<use href="#bdf" transform="translate(641.8 612.7) scale(1.000)"/>
<use href="#bdf" transform="translate(641.8 624.0) scale(1.000)"/>
<use href="#leaf" transform="translate(641.8 631.4) scale(1.070)"/>
<path d="M651.2 540.4V544.4" stroke="#222" stroke-width="1.00" stroke-dasharray="1.20 1.00"/>
<use href="#bdf" transform="translate(651.2 548.9) scale(1.000)"/>
<use href="#bdf" transform="translate(651.2 560.2) scale(1.000)"/>
<use href="#bdf" transform="translate(651.2 571.5) scale(1.000)"/>
<use href="#bdf" transform="translate(651.2 582.8) scale(1.000)"/>
<use href="#bdf" transform="translate(651.2 594.1) scale(1.000)"/>
<use href="#bdf" transform="translate(651.2 605.4) scale(1.000)"/>
<use href="#tear" transform="translate(651.2 613.0) scale(1.030)"/>
<path d="M660.6 543.4V547.4" stroke="#222" stroke-width="1.00" stroke-dasharray="1.20 1.00"/>
<use href="#bdf" transform="translate(660.6 551.9) scale(1.000)"/>
<use href="#bdf" transform="translate(660.6 563.2) scale(1.000)"/>
<use href="#bdf" transform="translate(660.6 574.5) scale(1.000)"/>
<use href="#bdf" transform="translate(660.6 585.8) scale(1.000)"/>
<use href="#ici" transform="translate(660.6 591.7) scale(0.940)"/>
<path d="M670.0 545.7V549.7" stroke="#222" stroke-width="1.00" stroke-dasharray="1.20 1.00"/>
<use href="#bdf" transform="translate(670.0 554.2) scale(1.000)"/>
<use href="#bdf" transform="translate(670.0 565.5) scale(1.000)"/>
<use href="#bdf" transform="translate(670.0 576.8) scale(1.000)"/>
<use href="#bdf" transform="translate(670.0 588.1) scale(1.000)"/>
<use href="#bdf" transform="translate(670.0 599.4) scale(1.000)"/>
<use href="#bdf" transform="translate(670.0 610.7) scale(1.000)"/>
<use href="#ball" transform="translate(670.0 623.5) scale(0.950)"/>
<path d="M679.4 547.6V551.6" stroke="#222" stroke-width="1.00" stroke-dasharray="1.20 1.00"/>
<use href="#bdf" transform="translate(679.4 556.1) scale(1.000)"/>
<use href="#bdf" transform="translate(679.4 567.4) scale(1.000)"/>
<use href="#bdf" transform="translate(679.4 578.7) scale(1.000)"/>
<use href="#bdf" transform="translate(679.4 590.0) scale(1.000)"/>
<use href="#bdf" transform="translate(679.4 601.3) scale(1.000)"/>
<use href="#bdf" transform="translate(679.4 612.6) scale(1.000)"/>
<use href="#bdf" transform="translate(679.4 623.9) scale(1.000)"/>
<use href="#bdf" transform="translate(679.4 635.2) scale(1.000)"/>
<use href="#leaf" transform="translate(679.4 642.6) scale(1.070)"/>
<path d="M688.8 549.0V553.0" stroke="#222" stroke-width="1.00" stroke-dasharray="1.20 1.00"/>
<use href="#bdf" transform="translate(688.8 557.5) scale(1.000)"/>
<use href="#bdf" transform="translate(688.8 568.8) scale(1.000)"/>
<use href="#bdf" transform="translate(688.8 580.1) scale(1.000)"/>
<use href="#bdf" transform="translate(688.8 591.4) scale(1.000)"/>
<use href="#bdf" transform="translate(688.8 602.7) scale(1.000)"/>
<use href="#bdf" transform="translate(688.8 614.0) scale(1.000)"/>
<use href="#tear" transform="translate(688.8 621.6) scale(1.030)"/>
<path d="M698.2 550.2V554.2" stroke="#222" stroke-width="1.00" stroke-dasharray="1.20 1.00"/>
<use href="#bdf" transform="translate(698.2 558.7) scale(1.000)"/>
<use href="#bdf" transform="translate(698.2 570.0) scale(1.000)"/>
<use href="#bdf" transform="translate(698.2 581.3) scale(1.000)"/>
<use href="#bdf" transform="translate(698.2 592.6) scale(1.000)"/>
<use href="#ici" transform="translate(698.2 598.5) scale(0.940)"/>
<path d="M707.6 551.0V555.0" stroke="#222" stroke-width="1.00" stroke-dasharray="1.20 1.00"/>
<use href="#bdf" transform="translate(707.6 559.5) scale(1.000)"/>
<use href="#bdf" transform="translate(707.6 570.8) scale(1.000)"/>
<use href="#bdf" transform="translate(707.6 582.1) scale(1.000)"/>
<use href="#bdf" transform="translate(707.6 593.4) scale(1.000)"/>
<use href="#bdf" transform="translate(707.6 604.7) scale(1.000)"/>
<use href="#bdf" transform="translate(707.6 616.0) scale(1.000)"/>
<use href="#ball" transform="translate(707.6 628.8) scale(0.950)"/>
<path d="M717.0 551.5V555.5" stroke="#222" stroke-width="1.00" stroke-dasharray="1.20 1.00"/>
<use href="#bdf" transform="translate(717.0 560.0) scale(1.000)"/>
<use href="#bdf" transform="translate(717.0 571.3) scale(1.000)"/>
<use href="#bdf" transform="translate(717.0 582.6) scale(1.000)"/>
<use href="#bdf" transform="translate(717.0 593.9) scale(1.000)"/>
<use href="#bdf" transform="translate(717.0 605.2) scale(1.000)"/>
<use href="#bdf" transform="translate(717.0 616.5) scale(1.000)"/>
<use href="#bdf" transform="translate(717.0 627.8) scale(1.000)"/>
<use href="#bdf" transform="translate(717.0 639.1) scale(1.000)"/>
<use href="#leaf" transform="translate(717.0 646.5) scale(1.070)"/>
<path d="M726.4 551.8V555.8" stroke="#222" stroke-width="1.00" stroke-dasharray="1.20 1.00"/>
<use href="#bdf" transform="translate(726.4 560.3) scale(1.000)"/>
<use href="#bdf" transform="translate(726.4 571.6) scale(1.000)"/>
<use href="#bdf" transform="translate(726.4 582.9) scale(1.000)"/>
<use href="#bdf" transform="translate(726.4 594.2) scale(1.000)"/>
<use href="#bdf" transform="translate(726.4 605.5) scale(1.000)"/>
<use href="#bdf" transform="translate(726.4 616.8) scale(1.000)"/>
<use href="#tear" transform="translate(726.4 624.4) scale(1.030)"/>
<path d="M735.9 551.9V555.9" stroke="#222" stroke-width="1.00" stroke-dasharray="1.20 1.00"/>
<use href="#bdf" transform="translate(735.9 560.4) scale(1.000)"/>
<use href="#bdf" transform="translate(735.9 571.7) scale(1.000)"/>
<use href="#bdf" transform="translate(735.9 583.0) scale(1.000)"/>
<use href="#bdf" transform="translate(735.9 594.3) scale(1.000)"/>
<use href="#ici" transform="translate(735.9 600.2) scale(0.940)"/>
<path d="M745.3 551.7V555.7" stroke="#222" stroke-width="1.00" stroke-dasharray="1.20 1.00"/>
<use href="#bdf" transform="translate(745.3 560.2) scale(1.000)"/>
<use href="#bdf" transform="translate(745.3 571.5) scale(1.000)"/>
<use href="#bdf" transform="translate(745.3 582.8) scale(1.000)"/>
<use href="#bdf" transform="translate(745.3 594.1) scale(1.000)"/>
<use href="#bdf" transform="translate(745.3 605.4) scale(1.000)"/>
<use href="#bdf" transform="translate(745.3 616.7) scale(1.000)"/>
<use href="#ball" transform="translate(745.3 629.5) scale(0.950)"/>
<path d="M754.7 551.2V555.2" stroke="#222" stroke-width="1.00" stroke-dasharray="1.20 1.00"/>
<use href="#bdf" transform="translate(754.7 559.7) scale(1.000)"/>
<use href="#bdf" transform="translate(754.7 571.0) scale(1.000)"/>
<use href="#bdf" transform="translate(754.7 582.3) scale(1.000)"/>
<use href="#bdf" transform="translate(754.7 593.6) scale(1.000)"/>
<use href="#bdf" transform="translate(754.7 604.9) scale(1.000)"/>
<use href="#bdf" transform="translate(754.7 616.2) scale(1.000)"/>
<use href="#bdf" transform="translate(754.7 627.5) scale(1.000)"/>
<use href="#bdf" transform="translate(754.7 638.8) scale(1.000)"/>
<use href="#leaf" transform="translate(754.7 646.2) scale(1.070)"/>
<path d="M764.1 550.5V554.5" stroke="#222" stroke-width="1.00" stroke-dasharray="1.20 1.00"/>
<use href="#bdf" transform="translate(764.1 559.0) scale(1.000)"/>
<use href="#bdf" transform="translate(764.1 570.3) scale(1.000)"/>
<use href="#bdf" transform="translate(764.1 581.6) scale(1.000)"/>
<use href="#bdf" transform="translate(764.1 592.9) scale(1.000)"/>
<use href="#bdf" transform="translate(764.1 604.2) scale(1.000)"/>
<use href="#bdf" transform="translate(764.1 615.5) scale(1.000)"/>
<use href="#tear" transform="translate(764.1 623.1) scale(1.030)"/>
<path d="M773.5 549.5V553.5" stroke="#222" stroke-width="1.00" stroke-dasharray="1.20 1.00"/>
<use href="#bdf" transform="translate(773.5 558.0) scale(1.000)"/>
<use href="#bdf" transform="translate(773.5 569.3) scale(1.000)"/>
<use href="#bdf" transform="translate(773.5 580.6) scale(1.000)"/>
<use href="#bdf" transform="translate(773.5 591.9) scale(1.000)"/>
<use href="#ici" transform="translate(773.5 597.8) scale(0.940)"/>
<path d="M782.9 548.2V552.2" stroke="#222" stroke-width="1.00" stroke-dasharray="1.20 1.00"/>
<use href="#bdf" transform="translate(782.9 556.7) scale(1.000)"/>
<use href="#bdf" transform="translate(782.9 568.0) scale(1.000)"/>
<use href="#bdf" transform="translate(782.9 579.3) scale(1.000)"/>
<use href="#bdf" transform="translate(782.9 590.6) scale(1.000)"/>
<use href="#bdf" transform="translate(782.9 601.9) scale(1.000)"/>
<use href="#bdf" transform="translate(782.9 613.2) scale(1.000)"/>
<use href="#ball" transform="translate(782.9 626.0) scale(0.950)"/>
<path d="M792.3 546.5V550.5" stroke="#222" stroke-width="1.00" stroke-dasharray="1.20 1.00"/>
<use href="#bdf" transform="translate(792.3 555.0) scale(1.000)"/>
<use href="#bdf" transform="translate(792.3 566.3) scale(1.000)"/>
<use href="#bdf" transform="translate(792.3 577.6) scale(1.000)"/>
<use href="#bdf" transform="translate(792.3 588.9) scale(1.000)"/>
<use href="#bdf" transform="translate(792.3 600.2) scale(1.000)"/>
<use href="#bdf" transform="translate(792.3 611.5) scale(1.000)"/>
<use href="#bdf" transform="translate(792.3 622.8) scale(1.000)"/>
<use href="#bdf" transform="translate(792.3 634.1) scale(1.000)"/>
<use href="#leaf" transform="translate(792.3 641.5) scale(1.070)"/>
<path d="M801.7 544.4V548.4" stroke="#222" stroke-width="1.00" stroke-dasharray="1.20 1.00"/>
<use href="#bdf" transform="translate(801.7 552.9) scale(1.000)"/>
<use href="#bdf" transform="translate(801.7 564.2) scale(1.000)"/>
<use href="#bdf" transform="translate(801.7 575.5) scale(1.000)"/>
<use href="#bdf" transform="translate(801.7 586.8) scale(1.000)"/>
<use href="#bdf" transform="translate(801.7 598.1) scale(1.000)"/>
<use href="#bdf" transform="translate(801.7 609.4) scale(1.000)"/>
<use href="#tear" transform="translate(801.7 617.0) scale(1.030)"/>
<path d="M811.1 541.7V545.7" stroke="#222" stroke-width="1.00" stroke-dasharray="1.20 1.00"/>
<use href="#bdf" transform="translate(811.1 550.2) scale(1.000)"/>
<use href="#bdf" transform="translate(811.1 561.5) scale(1.000)"/>
<use href="#bdf" transform="translate(811.1 572.8) scale(1.000)"/>
<use href="#bdf" transform="translate(811.1 584.1) scale(1.000)"/>
<use href="#ici" transform="translate(811.1 590.0) scale(0.940)"/>
<path d="M820.5 538.1V542.1" stroke="#222" stroke-width="1.00" stroke-dasharray="1.20 1.00"/>
<use href="#bdf" transform="translate(820.5 546.6) scale(1.000)"/>
<use href="#bdf" transform="translate(820.5 557.9) scale(1.000)"/>
<use href="#bdf" transform="translate(820.5 569.2) scale(1.000)"/>
<use href="#bdf" transform="translate(820.5 580.5) scale(1.000)"/>
<use href="#bdf" transform="translate(820.5 591.8) scale(1.000)"/>
<use href="#bdf" transform="translate(820.5 603.1) scale(1.000)"/>
<use href="#ball" transform="translate(820.5 615.9) scale(0.950)"/>
<path d="M829.9 533.0V537.0" stroke="#222" stroke-width="1.00" stroke-dasharray="1.20 1.00"/>
<use href="#bdf" transform="translate(829.9 541.5) scale(1.000)"/>
<use href="#bdf" transform="translate(829.9 552.8) scale(1.000)"/>
<use href="#bdf" transform="translate(829.9 564.1) scale(1.000)"/>
<use href="#bdf" transform="translate(829.9 575.4) scale(1.000)"/>
<use href="#bdf" transform="translate(829.9 586.7) scale(1.000)"/>
<use href="#bdf" transform="translate(829.9 598.0) scale(1.000)"/>
<use href="#bdf" transform="translate(829.9 609.3) scale(1.000)"/>
<use href="#bdf" transform="translate(829.9 620.6) scale(1.000)"/>
<use href="#leaf" transform="translate(829.9 628.0) scale(1.070)"/>
<path d="M627.3 528.7V610.0" stroke="#222" stroke-width="0.90" stroke-dasharray="1.30 1.30"/>
<use href="#bs" transform="translate(627.3 537.2) scale(1.000)"/>
<use href="#bs" transform="translate(627.3 548.5) scale(1.000)"/>
<use href="#bs" transform="translate(627.3 559.8) scale(1.000)"/>
<use href="#bs" transform="translate(627.3 571.1) scale(1.000)"/>
<use href="#bs" transform="translate(627.3 582.4) scale(1.000)"/>
<use href="#bs" transform="translate(627.3 593.7) scale(1.000)"/>
<use href="#bs" transform="translate(627.3 605.0) scale(1.000)"/>
<use href="#sleaf" transform="translate(627.3 611.5) scale(1.000)"/>
<path d="M838.8 528.7V610.0" stroke="#222" stroke-width="0.90" stroke-dasharray="1.30 1.30"/>
<use href="#bs" transform="translate(838.8 537.2) scale(1.000)"/>
<use href="#bs" transform="translate(838.8 548.5) scale(1.000)"/>
<use href="#bs" transform="translate(838.8 559.8) scale(1.000)"/>
<use href="#bs" transform="translate(838.8 571.1) scale(1.000)"/>
<use href="#bs" transform="translate(838.8 582.4) scale(1.000)"/>
<use href="#bs" transform="translate(838.8 593.7) scale(1.000)"/>
<use href="#bs" transform="translate(838.8 605.0) scale(1.000)"/>
<use href="#sleaf" transform="translate(838.8 611.5) scale(1.000)"/>
<path d="M627.3 497.0V521.0A105.7 31.4 0 0 0 838.7 521.0V497.0A105.7 31.4 0 0 0 627.3 497.0z" fill="#fff" stroke="#1a1a1a" stroke-width="1.3"/>
<ellipse cx="733.0" cy="497.0" rx="105.7" ry="31.4" fill="#fff" stroke="#1a1a1a" stroke-width="1.15"/>
<clipPath id="inner"><ellipse cx="733.0" cy="497.2" rx="90.2" ry="20.6"/></clipPath>
<g clip-path="url(#inner)">
<path d="M642.8 510.0A90.2 20.6 0 0 1 823.2 510.0" fill="none" stroke="#222" stroke-width="1.1"/>
<use href="#bdl" transform="translate(650.6 508.1) scale(0.92)"/>
<use href="#bdl" transform="translate(650.6 519.1) scale(0.92)"/>
<use href="#bdl" transform="translate(650.6 530.1) scale(0.92)"/>
<use href="#bdl" transform="translate(660.2 504.3) scale(0.92)"/>
<use href="#bdl" transform="translate(660.2 515.3) scale(0.92)"/>
<use href="#bdl" transform="translate(660.2 526.3) scale(0.92)"/>
<use href="#bdl" transform="translate(669.8 501.8) scale(0.92)"/>
<use href="#bdl" transform="translate(669.8 512.8) scale(0.92)"/>
<use href="#bdl" transform="translate(669.8 523.8) scale(0.92)"/>
<use href="#bdl" transform="translate(679.4 499.9) scale(0.92)"/>
<use href="#bdl" transform="translate(679.4 510.9) scale(0.92)"/>
<use href="#bdl" transform="translate(679.4 521.9) scale(0.92)"/>
<use href="#bdl" transform="translate(689.0 498.5) scale(0.92)"/>
<use href="#bdl" transform="translate(689.0 509.5) scale(0.92)"/>
<use href="#bdl" transform="translate(689.0 520.5) scale(0.92)"/>
<use href="#bdl" transform="translate(698.6 497.5) scale(0.92)"/>
<use href="#bdl" transform="translate(698.6 508.5) scale(0.92)"/>
<use href="#bdl" transform="translate(698.6 519.5) scale(0.92)"/>
<use href="#bdl" transform="translate(708.2 496.7) scale(0.92)"/>
<use href="#bdl" transform="translate(708.2 507.7) scale(0.92)"/>
<use href="#bdl" transform="translate(708.2 518.7) scale(0.92)"/>
<use href="#bdl" transform="translate(717.8 496.2) scale(0.92)"/>
<use href="#bdl" transform="translate(717.8 507.2) scale(0.92)"/>
<use href="#bdl" transform="translate(717.8 518.2) scale(0.92)"/>
<use href="#bdl" transform="translate(727.4 495.9) scale(0.92)"/>
<use href="#bdl" transform="translate(727.4 506.9) scale(0.92)"/>
<use href="#bdl" transform="translate(727.4 517.9) scale(0.92)"/>
<use href="#bdl" transform="translate(737.0 495.9) scale(0.92)"/>
<use href="#bdl" transform="translate(737.0 506.9) scale(0.92)"/>
<use href="#bdl" transform="translate(737.0 517.9) scale(0.92)"/>
<use href="#bdl" transform="translate(746.6 496.1) scale(0.92)"/>
<use href="#bdl" transform="translate(746.6 507.1) scale(0.92)"/>
<use href="#bdl" transform="translate(746.6 518.1) scale(0.92)"/>
<use href="#bdl" transform="translate(756.2 496.6) scale(0.92)"/>
<use href="#bdl" transform="translate(756.2 507.6) scale(0.92)"/>
<use href="#bdl" transform="translate(756.2 518.6) scale(0.92)"/>
<use href="#bdl" transform="translate(765.8 497.3) scale(0.92)"/>
<use href="#bdl" transform="translate(765.8 508.3) scale(0.92)"/>
<use href="#bdl" transform="translate(765.8 519.3) scale(0.92)"/>
<use href="#bdl" transform="translate(775.4 498.3) scale(0.92)"/>
<use href="#bdl" transform="translate(775.4 509.3) scale(0.92)"/>
<use href="#bdl" transform="translate(775.4 520.3) scale(0.92)"/>
<use href="#bdl" transform="translate(785.0 499.7) scale(0.92)"/>
<use href="#bdl" transform="translate(785.0 510.7) scale(0.92)"/>
<use href="#bdl" transform="translate(785.0 521.7) scale(0.92)"/>
<use href="#bdl" transform="translate(794.6 501.5) scale(0.92)"/>
<use href="#bdl" transform="translate(794.6 512.5) scale(0.92)"/>
<use href="#bdl" transform="translate(794.6 523.5) scale(0.92)"/>
<use href="#bdl" transform="translate(804.2 503.9) scale(0.92)"/>
<use href="#bdl" transform="translate(804.2 514.9) scale(0.92)"/>
<use href="#bdl" transform="translate(804.2 525.9) scale(0.92)"/>
<use href="#bdl" transform="translate(813.8 507.3) scale(0.92)"/>
<use href="#bdl" transform="translate(813.8 518.3) scale(0.92)"/>
<use href="#bdl" transform="translate(813.8 529.3) scale(0.92)"/>
<circle cx="661" cy="506" r="3.1" fill="#9a9a9a" stroke="#333" stroke-width="0.9"/><circle cx="661" cy="506" r="1.1" fill="#222"/>
<circle cx="680.5" cy="511" r="3.1" fill="#9a9a9a" stroke="#333" stroke-width="0.9"/><circle cx="680.5" cy="511" r="1.1" fill="#222"/>
<circle cx="690.5" cy="511.5" r="3.1" fill="#9a9a9a" stroke="#333" stroke-width="0.9"/><circle cx="690.5" cy="511.5" r="1.1" fill="#222"/>
<circle cx="784.5" cy="511.5" r="3.1" fill="#9a9a9a" stroke="#333" stroke-width="0.9"/><circle cx="784.5" cy="511.5" r="1.1" fill="#222"/>
</g>
<ellipse cx="733.0" cy="497.2" rx="90.2" ry="20.6" fill="none" stroke="#1a1a1a" stroke-width="1.15"/>
<path d="M709.6 291L637 487" stroke="#222" stroke-width="1"/>
<path d="M753.2 291.5L778.6 465" fill="none" stroke="#222" stroke-width="1"/>
<path d="M743.2 291.5L762 511.5" fill="none" stroke="#222" stroke-width="1"/>
<path d="M631.8000000000001 498.8V492C631.8000000000001 489 634.1 487 635.6 487S639.4 489 639.4 492V498.8Q635.6 500 631.8000000000001 498.8z" fill="#fff" stroke="#222" stroke-width="1"/>
<path d="M774.7 475.8V469C774.7 466 777.0 464 778.5 464S782.3 466 782.3 469V475.8Q778.5 477 774.7 475.8z" fill="#fff" stroke="#222" stroke-width="1"/>
<path d="M758.0 523.3V516.5C758.0 513.5 760.3 511.5 761.8 511.5S765.5999999999999 513.5 765.5999999999999 516.5V523.3Q761.8 524.5 758.0 523.3z" fill="#fff" stroke="#222" stroke-width="1"/>
<path d="M627.2 456V497M643 456V494" stroke="#333" stroke-width="1" stroke-dasharray="6.5 1.3"/>
<path d="M606 463.7H621M649 463.7H664" stroke="#222" stroke-width="1.2"/>
<path d="M627 463.7l-8.5 -1.8v3.6z" fill="#222"/>
<path d="M643.2 463.7l8.5 -1.8v3.6z" fill="#222"/>
<text x="628.2" y="468" font-size="14" textLength="15.8" lengthAdjust="spacingAndGlyphs" fill="#1c1c1c" stroke="#1c1c1c" stroke-width="0.3">35</text>
<path d="M563.5 497H616M589 520.8H616" stroke="#333" stroke-width="1" stroke-dasharray="6.5 1.3"/>
<path d="M599.8 476V490M599.8 528V543" stroke="#222" stroke-width="1.2"/>
<path d="M599.8 496.6l-1.8 -8.5h3.6z" fill="#222"/>
<path d="M599.8 521.2l-1.8 8.5h3.6z" fill="#222"/>
<text x="592.3" y="512.5" font-size="14" textLength="15.8" lengthAdjust="spacingAndGlyphs" fill="#1c1c1c" stroke="#1c1c1c" stroke-width="0.3">45</text>
<path d="M573.7 504V628" stroke="#333" stroke-width="1" stroke-dasharray="6.5 1.3"/>
<path d="M573.7 497.4l-1.8 8.5h3.6z" fill="#222"/>
<path d="M573.7 634.6l-1.8 -8.5h3.6z" fill="#222"/>
<path d="M563.5 635H584" stroke="#333" stroke-width="1" stroke-dasharray="6.5 1.3"/>
<rect x="561" y="558" width="26" height="15" fill="#fff"/>
<text x="561.7" y="570.4" font-size="14" textLength="24.2" lengthAdjust="spacingAndGlyphs" fill="#1c1c1c" stroke="#1c1c1c" stroke-width="0.3">260</text>
<path d="M627.2 662V690M838.5 662V690" stroke="#333" stroke-width="1" stroke-dasharray="6.5 1.3"/>
<path d="M634 680.6H712M752 680.6H832" stroke="#333" stroke-width="1" stroke-dasharray="6.5 1.3"/>
<path d="M627.6 680.6l8.5 -1.8v3.6z" fill="#222"/>
<path d="M838.2 680.6l-8.5 -1.8v3.6z" fill="#222"/>
<text x="716.2" y="685.4" font-size="14" textLength="34.2" lengthAdjust="spacingAndGlyphs" fill="#1c1c1c" stroke="#1c1c1c" stroke-width="0.3">Ø400</text>
<path d="M896.4 404.4V408.4" stroke="#222" stroke-width="1.00" stroke-dasharray="1.20 1.00"/>
<use href="#bdf" transform="translate(896.4 412.9) scale(1.000)"/>
<use href="#bdf" transform="translate(896.4 424.2) scale(1.000)"/>
<use href="#bdf" transform="translate(896.4 435.5) scale(1.000)"/>
<use href="#bdf" transform="translate(896.4 446.8) scale(1.000)"/>
<use href="#bdf" transform="translate(896.4 458.1) scale(1.000)"/>
<use href="#bdf" transform="translate(896.4 469.4) scale(1.000)"/>
<use href="#tear" transform="translate(896.4 477.0) scale(1.030)"/>
<path d="M904 404.4H921.8M904 497.7H921.8" stroke="#333" stroke-width="1" stroke-dasharray="6.5 1.3"/>
<path d="M913.7 410.4V491.7" stroke="#333" stroke-width="1" stroke-dasharray="6.5 1.3"/>
<path d="M913.7 404.79999999999995l-1.3 6.5h2.6z" fill="#222"/>
<path d="M913.7 497.3l-1.3 -6.5h2.6z" fill="#222"/>
<rect x="904.4" y="446.5" width="18" height="10" fill="#fff"/>
<text x="904.9" y="455" font-size="10.2" textLength="17.2" lengthAdjust="spacingAndGlyphs" fill="#1c1c1c" stroke="#1c1c1c" stroke-width="0.3">170</text>
<path d="M965.7 428.6V432.6" stroke="#222" stroke-width="1.00" stroke-dasharray="1.20 1.00"/>
<use href="#bdf" transform="translate(965.7 437.1) scale(1.000)"/>
<use href="#bdf" transform="translate(965.7 448.4) scale(1.000)"/>
<use href="#bdf" transform="translate(965.7 459.7) scale(1.000)"/>
<use href="#bdf" transform="translate(965.7 471.0) scale(1.000)"/>
<use href="#ici" transform="translate(965.7 476.9) scale(0.940)"/>
<path d="M975 428.6H992M975 498.6H992" stroke="#333" stroke-width="1" stroke-dasharray="6.5 1.3"/>
<path d="M983 434.6V492.6" stroke="#333" stroke-width="1" stroke-dasharray="6.5 1.3"/>
<path d="M983 429.0l-1.3 6.5h2.6z" fill="#222"/>
<path d="M983 498.20000000000005l-1.3 -6.5h2.6z" fill="#222"/>
<rect x="973.5" y="459.0" width="18" height="10" fill="#fff"/>
<text x="974" y="467.5" font-size="10.2" textLength="17.2" lengthAdjust="spacingAndGlyphs" fill="#1c1c1c" stroke="#1c1c1c" stroke-width="0.3">125</text>
<path d="M898.3 523.2V527.2" stroke="#222" stroke-width="1.00" stroke-dasharray="1.20 1.00"/>
<use href="#bdf" transform="translate(898.3 531.7) scale(1.000)"/>
<use href="#bdf" transform="translate(898.3 543.0) scale(1.000)"/>
<use href="#bdf" transform="translate(898.3 554.3) scale(1.000)"/>
<use href="#bdf" transform="translate(898.3 565.6) scale(1.000)"/>
<use href="#bdf" transform="translate(898.3 576.9) scale(1.000)"/>
<use href="#bdf" transform="translate(898.3 588.2) scale(1.000)"/>
<use href="#ball" transform="translate(898.3 601.0) scale(0.950)"/>
<path d="M904 523.2H929.3M904 608H929.3" stroke="#333" stroke-width="1" stroke-dasharray="6.5 1.3"/>
<path d="M920.5 529.2V602" stroke="#333" stroke-width="1" stroke-dasharray="6.5 1.3"/>
<path d="M920.5 523.6l-1.3 6.5h2.6z" fill="#222"/>
<path d="M920.5 607.6l-1.3 -6.5h2.6z" fill="#222"/>
<rect x="911.1" y="561.5" width="18" height="10" fill="#fff"/>
<text x="911.6" y="570" font-size="10.2" textLength="17.2" lengthAdjust="spacingAndGlyphs" fill="#1c1c1c" stroke="#1c1c1c" stroke-width="0.3">155</text>
<path d="M960.4 523.2V527.2" stroke="#222" stroke-width="1.00" stroke-dasharray="1.20 1.00"/>
<use href="#bdf" transform="translate(960.4 531.7) scale(1.000)"/>
<use href="#bdf" transform="translate(960.4 543.0) scale(1.000)"/>
<use href="#bdf" transform="translate(960.4 554.3) scale(1.000)"/>
<use href="#bdf" transform="translate(960.4 565.6) scale(1.000)"/>
<use href="#bdf" transform="translate(960.4 576.9) scale(1.000)"/>
<use href="#bdf" transform="translate(960.4 588.2) scale(1.000)"/>
<use href="#bdf" transform="translate(960.4 599.5) scale(1.000)"/>
<use href="#bdf" transform="translate(960.4 610.8) scale(1.000)"/>
<use href="#leaf" transform="translate(960.4 618.2) scale(1.070)"/>
<path d="M968 523.2H996M968 639H996" stroke="#333" stroke-width="1" stroke-dasharray="6.5 1.3"/>
<path d="M985.3 529.2V633" stroke="#333" stroke-width="1" stroke-dasharray="6.5 1.3"/>
<path d="M985.3 523.6l-1.3 6.5h2.6z" fill="#222"/>
<path d="M985.3 638.6l-1.3 -6.5h2.6z" fill="#222"/>
<rect x="975.5" y="576.5" width="18" height="10" fill="#fff"/>
<text x="976" y="585" font-size="10.2" textLength="17.2" lengthAdjust="spacingAndGlyphs" fill="#1c1c1c" stroke="#1c1c1c" stroke-width="0.3">210</text>
<text x="686" y="676.6" font-size="53" textLength="311" lengthAdjust="spacingAndGlyphs" fill="#b2b2b2" style="mix-blend-mode:multiply">Domsveta.by</text>
<!-- C: texts -->
<text x="558.6" y="14.7" font-size="18.2" textLength="114.8" lengthAdjust="spacingAndGlyphs" fill="#1c1c1c" >Размер базы:</text>
<text x="549.6" y="239" font-size="18.2" textLength="185" lengthAdjust="spacingAndGlyphs" fill="#1c1c1c" >Габаритные размеры:</text>
<text x="377.3" y="683.6" font-size="20" textLength="246" lengthAdjust="spacingAndGlyphs" fill="#1c1c1c" >Product coding: AQUA SP9</text>
<text x="309.2" y="291.0" font-size="14.8" font-weight="bold" textLength="167.1" lengthAdjust="spacingAndGlyphs" fill="#333">1. Выключить питание</text>
<text x="309.2" y="309.0" font-size="14.8" font-weight="bold" textLength="144.9" lengthAdjust="spacingAndGlyphs" fill="#333">2. Настенный анкер</text>
<text x="309.2" y="327.1" font-size="14.8" font-weight="bold" textLength="222.7" lengthAdjust="spacingAndGlyphs" fill="#333">3. Закрепить планку к потолку</text>
<text x="309.2" y="345.1" font-size="14.8" font-weight="bold" textLength="162.0" lengthAdjust="spacingAndGlyphs" fill="#333">4. Монтажный провод</text>
<text x="309.2" y="363.1" font-size="14.8" font-weight="bold" textLength="204.3" lengthAdjust="spacingAndGlyphs" fill="#333">5. Закрепить базу к потолку</text>
<text x="309.2" y="381.1" font-size="14.8" font-weight="bold" textLength="331.4" lengthAdjust="spacingAndGlyphs" fill="#333">6. Поставть лампу G9 (не входит в комплект)</text>
<text x="309.2" y="399.2" font-size="14.8" font-weight="bold" textLength="189.0" lengthAdjust="spacingAndGlyphs" fill="#333">7. Кристальные подвески</text>
<path d="M540 206.7H1000" stroke="#777" stroke-width="1.2"/>
<ellipse cx="749.5" cy="129.9" rx="34.8" ry="10.8" fill="#fff" stroke="#222" stroke-width="1"/><path d="M714.7 129.9A34.8 10.8 0 0 0 784.3 129.9" fill="none" stroke="#1a1a1a" stroke-width="2"/><path d="M720.6 118.5V130.1A29.4 6.6 0 0 0 779.4 130.1V118.5" fill="#fff" stroke="#222" stroke-width="1.1"/><ellipse cx="750" cy="118.5" rx="29.4" ry="6.6" fill="#fff" stroke="#222" stroke-width="1.2"/>
<path d="M715 69V130M784.3 69V130" stroke="#333" stroke-width="1" stroke-dasharray="6.5 1.3"/>
<path d="M716 81H736.5M762.5 81H783.5" stroke="#333" stroke-width="1" stroke-dasharray="6.5 1.3"/>
<path d="M715.3 81l8 -1.7v3.4z" fill="#222"/>
<path d="M784 81l-8 -1.7v3.4z" fill="#222"/>
<text x="738" y="86.5" font-size="14" textLength="23.4" lengthAdjust="spacingAndGlyphs" fill="#1c1c1c" >130</text>
<path d="M675 120H719M675 130.6H715" stroke="#333" stroke-width="1" stroke-dasharray="6.5 1.3"/>
<path d="M685.5 99V113M685.5 138V151.5" stroke="#333" stroke-width="1" stroke-dasharray="6.5 1.3"/>
<path d="M685.5 119.6l-1.7 -8h3.4z" fill="#222"/>
<path d="M685.5 131l-1.7 8h3.4z" fill="#222"/>
<text x="676.5" y="130.6" font-size="14.4" textLength="16.5" lengthAdjust="spacingAndGlyphs" fill="#1c1c1c" >20</text>
<ellipse cx="732.9" cy="281.79999999999995" rx="34.8" ry="10.8" fill="#fff" stroke="#222" stroke-width="1"/><path d="M698.1 281.79999999999995A34.8 10.8 0 0 0 767.6999999999999 281.79999999999995" fill="none" stroke="#1a1a1a" stroke-width="2"/><path d="M704.0 270.4V282.0A29.4 6.6 0 0 0 762.8 282.0V270.4" fill="#fff" stroke="#222" stroke-width="1.1"/><ellipse cx="733.4" cy="270.4" rx="29.4" ry="6.6" fill="#fff" stroke="#222" stroke-width="1.2"/>
<path d="M766 346H807" stroke="#222" stroke-width="1"/>
<path d="M764 346l6 -1.4v2.8z" fill="#222"/>
<text x="808" y="350.6" font-size="15.2" textLength="84" lengthAdjust="spacingAndGlyphs" fill="#1c1c1c" >Цепочка 2 м</text>
</g>
</svg>
</body></html>
